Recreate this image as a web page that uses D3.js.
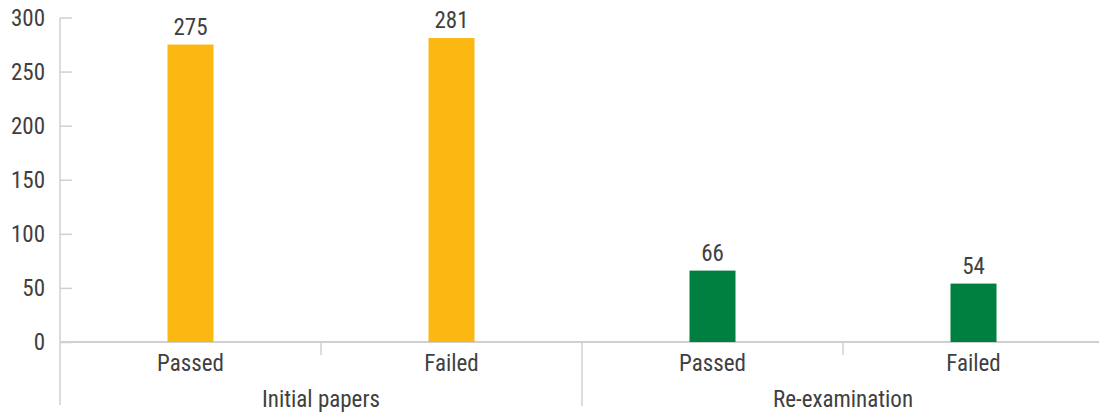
<!DOCTYPE html>
<html>
<head>
  <meta charset="utf-8" />
  <script src="https://d3js.org/d3.v7.min.js"></script>
  <style>
    body { margin: 0; background: #fff; }
    svg text { font-family: "Liberation Sans Narrow", "Roboto Condensed", "Open Sans", sans-serif; fill: #404040; }
  </style>
</head>
<body>
  <svg id="chart" width="1099" height="417"></svg>
  <script>
    // data
    const categories = ["Passed", "Failed", "Passed", "Failed"];
    const groups = ["Initial papers", "Initial papers", "Re-examination", "Re-examination"];
    const groupNames = ["Initial papers", "Re-examination"];
    const values = [275, 281, 66, 54];
    const colors = { "Initial papers": "#FBB813", "Re-examination": "#008040" };
    const yTicks = [0, 50, 100, 150, 200, 250, 300];

    const svg = d3.select("#chart");
    const plotLeft = 60, plotRight = 1104, plotTop = 17.5, base = 342;
    const axisColor = "#d0d0d0";
    const fontSize = "23px";

    const x = d3.scaleBand().domain(d3.range(values.length)).range([plotLeft, plotRight]);
    const y = d3.scaleLinear().domain([0, 300]).range([base, plotTop]);
    const barW = 46;

    // y axis
    const yAxis = svg.append("g").attr("transform", "translate(" + plotLeft + ",0)")
      .call(d3.axisRight(y).tickValues(yTicks).tickSize(12).tickFormat(""));
    yAxis.select(".domain").remove();
    yAxis.selectAll("line").attr("stroke", axisColor).attr("stroke-width", 1.5);
    svg.append("line").attr("x1", plotLeft).attr("x2", plotLeft).attr("y1", plotTop).attr("y2", 405)
      .attr("stroke", axisColor).attr("stroke-width", 1.5);
    svg.selectAll(".ylab").data(yTicks).join("text")
      .attr("class", "ylab")
      .attr("x", 45).attr("y", d => y(d))
      .attr("dy", "0.35em")
      .attr("text-anchor", "end")
      .style("font-size", fontSize)
      .text(d => d);

    // x axis baseline
    svg.append("line").attr("x1", plotLeft).attr("x2", plotRight).attr("y1", base).attr("y2", base)
      .attr("stroke", axisColor).attr("stroke-width", 2);

    // category dividers
    [1, 3].forEach(i => {
      svg.append("line").attr("x1", x(i)).attr("x2", x(i)).attr("y1", base).attr("y2", base + 13)
        .attr("stroke", axisColor).attr("stroke-width", 1.5);
    });
    svg.append("line").attr("x1", x(2)).attr("x2", x(2)).attr("y1", base).attr("y2", 406)
      .attr("stroke", axisColor).attr("stroke-width", 1.5);

    // bars
    svg.selectAll(".bar").data(values).join("rect")
      .attr("class", "bar")
      .attr("x", (d, i) => x(i) + x.bandwidth() / 2 - barW / 2)
      .attr("width", barW)
      .attr("y", d => y(d))
      .attr("height", d => base - y(d))
      .attr("fill", (d, i) => colors[groups[i]]);

    // value labels
    svg.selectAll(".val").data(values).join("text")
      .attr("class", "val")
      .attr("x", (d, i) => x(i) + x.bandwidth() / 2)
      .attr("y", d => y(d) - 10)
      .attr("text-anchor", "middle")
      .style("font-size", fontSize)
      .text(d => d);

    // category labels
    svg.selectAll(".cat").data(categories).join("text")
      .attr("class", "cat")
      .attr("x", (d, i) => x(i) + x.bandwidth() / 2)
      .attr("y", 371)
      .attr("text-anchor", "middle")
      .style("font-size", fontSize)
      .text(d => d);

    // group labels
    svg.selectAll(".grp").data(groupNames).join("text")
      .attr("class", "grp")
      .attr("x", (d, i) => x(i * 2 + 1))
      .attr("y", 407)
      .attr("text-anchor", "middle")
      .style("font-size", fontSize)
      .text(d => d);
  </script>
</body>
</html>
